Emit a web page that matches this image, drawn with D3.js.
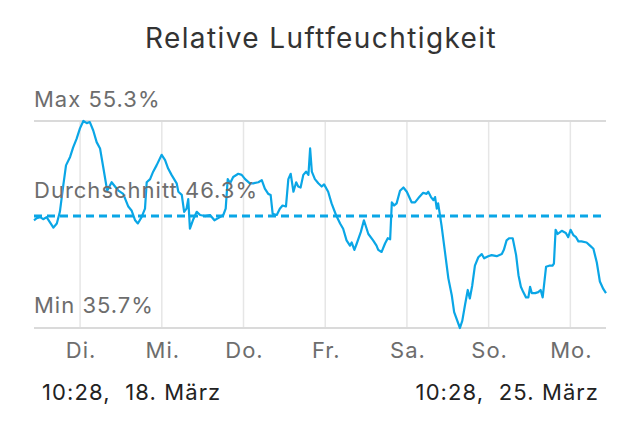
<!DOCTYPE html>
<html>
<head>
	<meta charset='utf-8'>
	<script src="https://cdnjs.cloudflare.com/ajax/libs/d3/7.8.5/d3.min.js" charset="utf-8"></script>
	<style>
	body {
		margin:0;
		background:#fff;
		font-family:Inter, sans-serif;
	}
	</style>
</head>
<body>
	<script>

	// hours after start (10:28, 18. März) and relative humidity in %
	var hours = [0,0.8,1.8,2.7,3.7,4.7,5.7,6.7,7.6,8.6,9.4,10.6,11.5,12.5,13.5,14.5,15.5,16.4,17.4,18.4,19.4,20.4,21.5,22.8,23.8,24.8,26.2,27.7,28.7,29.7,30.5,31.6,32.6,33.1,34.1,
		35.0,36.0,37.5,38.5,39.4,40.4,41.9,42.4,43.4,44.1,44.8,45.3,45.8,46.8,47.8,48.8,50.2,51.7,53.0,54.1,55.6,56.3,56.9,57.6,58.5,60.0,61.0,62.0,63.4,64.4,65.9,66.9,67.8,
		68.8,69.5,70.1,71.3,72.2,73.0,74.0,74.7,75.4,76.2,77.0,77.6,78.3,79.1,79.9,80.6,81.1,81.6,82.5,83.5,84.5,85.2,86.4,87.4,88.7,89.9,90.8,91.8,92.8,93.3,94.1,94.8,96.0,96.9,98.2,99.6,100.6,101.1,
		102.1,103.1,103.9,104.6,105.1,105.8,106.5,107.5,108.5,109.5,110.9,111.9,112.9,114.3,115.3,115.8,116.6,117.3,117.8,118.3,118.7,119.7,120.7,121.7,122.7,123.4,125.1,125.8,126.6,127.4,128.0,128.7,129.5,130.5,131.5,132.2,133.4,134.4,
		135.9,137.4,138.0,138.8,139.6,140.6,141.6,142.3,143.0,143.7,144.5,145.2,145.7,146.2,147.2,148.1,148.8,149.4,150.4,151.3,152.3,152.7,153.2,153.8,155.0,156.2,156.9,157.6,158.4,159.2,159.9,160.8,162.3,163.3,164.3,165.3,166.2,167.2,168.0];
	var humidity = [45.9,46.1,46.2,46.0,46.2,45.7,45.2,45.6,46.7,49.2,51.1,51.9,52.8,53.6,54.6,55.3,55.1,55.2,54.4,53.3,52.7,50.8,48.7,49.5,49.1,48.7,48.4,47.2,46.8,45.9,45.6,46.2,47.0,49.5,49.8,
		50.5,51.1,52.1,51.6,50.8,50.2,49.4,48.6,48.3,46.7,47.0,47.9,45.1,46.0,46.7,46.4,46.3,46.4,45.9,46.1,46.4,47.0,49.8,49.4,50.0,50.3,50.2,49.8,49.4,49.4,49.5,49.7,48.9,
		48.4,48.3,46.5,46.4,47.0,47.3,47.2,49.8,50.3,48.6,49.5,49.1,49.0,50.2,50.5,50.2,52.7,50.5,49.8,49.4,49.1,49.3,48.6,47.5,46.4,45.6,45.1,44.0,43.5,43.8,43.1,43.7,44.8,45.9,44.6,44.0,43.5,43.1,
		42.9,43.7,44.2,44.1,47.6,47.3,47.5,48.7,49.0,48.6,47.6,47.6,48.0,48.5,48.4,48.6,48.1,47.8,48.1,47.0,47.5,45.4,42.9,40.4,38.8,37.2,35.7,36.4,37.9,39.3,38.5,39.7,41.6,42.4,42.7,42.3,42.5,42.6,
		42.5,42.7,43.1,44.0,44.2,44.2,42.6,40.7,39.6,39.1,38.6,38.6,39.6,39.0,39.0,39.1,39.3,38.6,41.5,41.6,41.6,41.8,45.0,44.6,44.9,44.7,44.3,45.0,44.5,44.3,43.9,43.9,43.8,43.5,43.2,41.9,40.1,39.4,39.0];

	var dayLabels = ['Di.', 'Mi.', 'Do.', 'Fr.', 'Sa.', 'So.', 'Mo.'];
	var dayTicks = [19, 20, 21, 22, 23, 24, 25].map(function (d) { return new Date(2024, 2, d); });

	var title = 'Relative Luftfeuchtigkeit',
		maxVal = 55.3,
		avgVal = 46.3,
		minVal = 35.7,
		startLabel = '10:28,  18. März',
		endLabel = '10:28,  25. März';

	var start = new Date(2024, 2, 18, 10, 28),
		end = new Date(2024, 2, 25, 10, 28);

	var width = 640,
		height = 436,
		blue = '#0aa6e6',
		grey = '#6d6d6d';

	var data = hours.map(function (h, i) {
		return { t: new Date(start.getTime() + h * 3600e3), v: humidity[i] };
	});

	var x = d3.scaleTime().domain([start, end]).range([34, 606]);
	var y = d3.scaleLinear().domain([minVal, maxVal]).range([328, 121]);

	var svg = d3.select('body').append('svg').attr('width', width).attr('height', height);

	svg.append('text').attr('x', 321).attr('y', 48).attr('text-anchor', 'middle')
		.attr('font-size', 28).attr('letter-spacing', 1.4).attr('fill', '#333').text(title);

	// vertical day lines
	svg.selectAll('line.day').data(dayTicks).enter().append('line')
		.attr('class', 'day')
		.attr('x1', function (d) { return x(d); }).attr('x2', function (d) { return x(d); })
		.attr('y1', y(maxVal)).attr('y2', y(minVal))
		.attr('stroke', '#e6e6e6').attr('stroke-width', 1.5);

	// max / min lines
	svg.selectAll('line.lim').data([maxVal, minVal]).enter().append('line')
		.attr('class', 'lim')
		.attr('x1', x(start)).attr('x2', x(end))
		.attr('y1', function (d) { return y(d); }).attr('y2', function (d) { return y(d); })
		.attr('stroke', '#dadada').attr('stroke-width', 2);

	var line = d3.line().x(function (d) { return x(d.t); }).y(function (d) { return y(d.v); });

	svg.append('path').datum(data).attr('d', line)
		.attr('fill', 'none').attr('stroke', blue).attr('stroke-width', 2.2).attr('stroke-linejoin', 'round');

	svg.append('line')
		.attr('x1', x(start)).attr('x2', x(end))
		.attr('y1', y(avgVal)).attr('y2', y(avgVal))
		.attr('stroke', blue).attr('stroke-width', 3).attr('stroke-dasharray', '8,5');

	var fmt = function (v) { return v.toFixed(1) + '%'; };
	var labels = [['Max ', maxVal, -14], ['Durchschnitt ', avgVal, -18], ['Min ', minVal, -15]];
	svg.selectAll('text.lbl').data(labels).enter().append('text')
		.attr('class', 'lbl')
		.attr('x', 34).attr('y', function (d) { return y(d[1]) + d[2]; })
		.attr('font-size', 22).attr('letter-spacing', 1).attr('fill', grey)
		.text(function (d) { return d[0] + fmt(d[1]); });

	svg.selectAll('text.dayLbl').data(dayTicks).enter().append('text')
		.attr('class', 'dayLbl')
		.attr('x', function (d) { return x(d) + 1; }).attr('y', 358)
		.attr('text-anchor', 'middle').attr('font-size', 22).attr('letter-spacing', 1).attr('fill', grey)
		.text(function (d, i) { return dayLabels[i]; });

	svg.append('text').attr('x', 42).attr('y', 400).attr('font-size', 22).attr('letter-spacing', 1.1).attr('fill', '#222')
		.style('white-space', 'pre').text(startLabel);
	svg.append('text').attr('x', 599).attr('y', 400).attr('text-anchor', 'end').attr('font-size', 22).attr('letter-spacing', 1.1).attr('fill', '#222')
		.style('white-space', 'pre').text(endLabel);

	</script>
</body>
</html>
